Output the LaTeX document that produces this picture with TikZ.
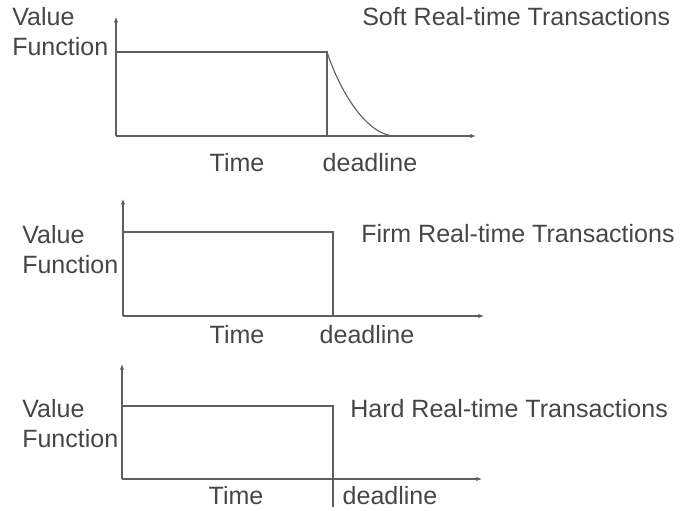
\documentclass[tikz,border=0pt]{standalone}
\usepackage{fontspec}
\setmainfont{Liberation Sans}
\usepackage{tikz}
\usetikzlibrary{arrows.meta}
\definecolor{linegray}{RGB}{95,95,95}
\definecolor{textgray}{RGB}{70,70,70}

\begin{document}
\begin{tikzpicture}[
	axis/.style={draw=linegray, line width=0.8pt, -{Latex[length=1.4mm,width=1.1mm]}},
	trace/.style={draw=linegray, line width=0.8pt},
	lbl/.style={text=textgray, inner sep=0pt, font=\fontsize{17.8}{21.3}\selectfont},
	]
	\useasboundingbox (0,0) rectangle (17,12.75);
	% soft
	\coordinate (o1) at (2.9,9.35);
	\coordinate (y1) at (2.9,12.33);
	\coordinate (x1) at (11.9,9.35);
	\coordinate (v1) at (2.9,11.45);
	\coordinate (d1) at (8.175,11.45);
	\coordinate (b1) at (8.175,9.35);
	\coordinate (e1) at (9.85,9.35);
	\draw[axis] (o1) -- (y1);
	\draw[axis] (o1) -- (x1);
	\draw[trace] (v1) -- (d1) -- (b1);
	\draw[trace] (d1) .. controls (8.45,10.6) and (9.1,9.4) .. (e1);
	\node[lbl, anchor=west, align=left] (vf1) at (0.3,11.95) {Value\\Function};
	\node[lbl, anchor=west] (soft) at (9.05,12.33) {Soft Real-time Transactions};
	\node[lbl] (t1) at (5.925,8.675) {Time};
	\node[lbl] (dl1) at (9.25,8.675) {deadline};
	% firm
	\coordinate (o2) at (3.075,4.85);
	\coordinate (y2) at (3.075,7.78);
	\coordinate (x2) at (12.1,4.85);
	\coordinate (v2) at (3.075,6.95);
	\coordinate (d2) at (8.325,6.95);
	\coordinate (b2) at (8.325,4.85);
	\draw[axis] (o2) -- (y2);
	\draw[axis] (o2) -- (x2);
	\draw[trace] (v2) -- (d2) -- (b2);
	\node[lbl, anchor=west, align=left] (vf2) at (0.55,6.51) {Value\\Function};
	\node[lbl, anchor=west] (firm) at (9.025,6.9) {Firm Real-time Transactions};
	\node[lbl] (t2) at (5.925,4.375) {Time};
	\node[lbl] (dl2) at (9.175,4.375) {deadline};
	% hard
	\coordinate (o3) at (3.05,0.775);
	\coordinate (y3) at (3.05,3.65);
	\coordinate (x3) at (12.05,0.775);
	\coordinate (v3) at (3.05,2.6);
	\coordinate (d3) at (8.325,2.6);
	\coordinate (b3) at (8.325,0.075);
	\draw[axis] (o3) -- (y3);
	\draw[axis] (o3) -- (x3);
	\draw[trace] (v3) -- (d3) -- (b3);
	\node[lbl, anchor=west, align=left] (vf3) at (0.55,2.15) {Value\\Function};
	\node[lbl, anchor=west] (hard) at (8.75,2.525) {Hard Real-time Transactions};
	\node[lbl] (t3) at (5.9,0.35) {Time};
	\node[lbl] (dl3) at (9.75,0.35) {deadline};
\end{tikzpicture}
\end{document}
